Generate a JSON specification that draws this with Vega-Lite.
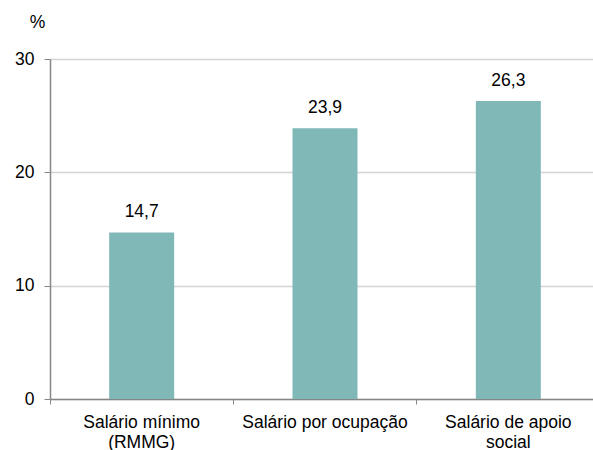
{
  "$schema": "https://vega.github.io/schema/vega-lite/v6.json",
  "autosize": "none",
  "width": 550,
  "height": 340,
  "padding": {"left": 50, "top": 59, "right": 0, "bottom": 51},
  "background": "white",
  "config": {
    "view": {"stroke": null},
    "font": "Liberation Sans",
    "locale": {"number": {"decimal": ",", "thousands": ".", "grouping": [3], "currency": ["", " €"]}}
  },
  "data": {
    "values": [
      {"cat": "Salário mínimo|(RMMG)", "v": 14.7},
      {"cat": "Salário por ocupação", "v": 23.9},
      {"cat": "Salário de apoio|social", "v": 26.3}
    ]
  },
  "encoding": {
    "x": {
      "field": "cat", "type": "nominal", "sort": null,
      "scale": {"paddingInner": 0, "paddingOuter": 0},
      "axis": {
        "title": null, "labelAngle": 0, "labelFontSize": 17.5, "labelColor": "#000000",
        "labelExpr": "split(datum.label, '|')", "labelLineHeight": 20,
        "labelPadding": 9, "bandPosition": 0, "tickColor": "#868686", "tickSize": 5,
        "domainColor": "#868686", "domainWidth": 1.5, "grid": false, "labelLimit": 300
      }
    },
    "y": {
      "field": "v", "type": "quantitative",
      "scale": {"domain": [0, 30]},
      "axis": {
        "values": [0, 10, 20, 30], "title": "%", "titleAngle": 0, "titleFontWeight": "normal",
        "titleFontSize": 17.5, "titleX": -13, "titleY": -37, "titleBaseline": "middle", "titleAlign": "center",
        "titleColor": "#000000",
        "labelFontSize": 17.5, "labelColor": "#000000", "labelPadding": 10,
        "tickColor": "#868686", "tickSize": 6, "domainColor": "#868686", "domainWidth": 1.5,
        "gridColor": "#d4d4d4", "gridWidth": 1.5
      }
    }
  },
  "layer": [
    {"mark": {"type": "bar", "color": "#80b8b8", "size": 65}},
    {
      "mark": {"type": "text", "baseline": "alphabetic", "dy": -15, "fontSize": 17.5, "color": "#000000"},
      "encoding": {"text": {"field": "v", "type": "quantitative", "format": ".1f"}}
    }
  ]
}
